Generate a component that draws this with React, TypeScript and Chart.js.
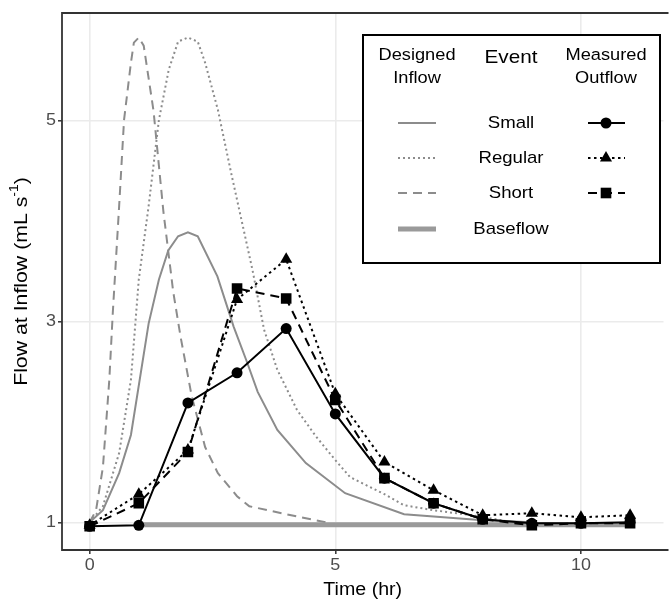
import React, { useEffect, useRef } from 'react';
import { Chart, registerables } from 'chart.js';

Chart.register(...registerables);

const FONT = '"Liberation Sans", Arial, Helvetica, sans-serif';
// the lettering is set slightly wide
const STRETCH = 1.12;

// Measured outflow, sampled every hour
const hours = [0, 1, 2, 3, 4, 5, 6, 7, 8, 9, 10, 11];
const smallOutflow = [0.96, 0.97, 2.19, 2.49, 2.93, 2.08, 1.44, 1.19, 1.03, 0.99, 0.99, 1.0];
const regularOutflow = [0.97, 1.28, 1.72, 3.22, 3.62, 2.28, 1.6, 1.32, 1.07, 1.09, 1.05, 1.07];
const shortOutflow = [0.96, 1.19, 1.7, 3.33, 3.23, 2.22, 1.44, 1.19, 1.03, 0.97, 0.99, 0.99];

// Designed inflow hydrographs
const smallInflowTime = [0, 0.27, 0.6, 0.84, 1.2, 1.41, 1.6, 1.8, 2.0, 2.2, 2.6, 2.93, 3.2, 3.42, 3.82, 4.4, 5.2, 6.4, 8.0, 9.0];
const smallInflowRate = [1.0, 1.12, 1.49, 1.87, 2.98, 3.42, 3.71, 3.85, 3.89, 3.85, 3.45, 2.95, 2.6, 2.3, 1.92, 1.59, 1.29, 1.08, 1.02, 1.0];

const regularInflowTime = [0, 0.27, 0.6, 0.84, 1.0, 1.2, 1.41, 1.61, 1.8, 2.0, 2.2, 2.35, 2.61, 2.88, 3.15, 3.32, 3.55, 3.82, 4.22, 4.6, 5.0, 5.3, 6.0, 6.4, 7.0, 7.94, 8.6];
const regularInflowRate = [1.0, 1.16, 1.69, 2.42, 3.42, 4.15, 5.01, 5.51, 5.79, 5.83, 5.79, 5.58, 5.11, 4.48, 3.88, 3.5, 2.92, 2.52, 2.12, 1.86, 1.62, 1.45, 1.28, 1.17, 1.12, 1.06, 1.0];

const shortInflowTime = [0, 0.13, 0.27, 0.4, 0.47, 0.6, 0.7, 0.84, 0.9, 1.0, 1.1, 1.3, 1.5, 1.7, 1.85, 2.08, 2.35, 2.61, 3.0, 3.25, 4.0, 4.8];
const shortInflowRate = [1.0, 1.12, 1.55, 2.42, 3.08, 4.15, 5.01, 5.58, 5.78, 5.83, 5.75, 5.1, 4.1, 3.3, 2.85, 2.25, 1.75, 1.49, 1.26, 1.16, 1.08, 1.0];

const baseflowTime = [1, 11];
const baseflowRate = [0.975, 0.975];

// Axes
const xTicks = [0, 5, 10];
const yTicks = [1, 3, 5];
const xLimits = [-0.563, 11.68];
const yLimits = [0.724, 6.075];
const xTitle = 'Time (hr)';
const yTitle = ['Flow at Inflow (mL s', '-1', ')'];

// Legend text
const inflowHeader = ['Designed', 'Inflow'];
const eventHeader = 'Event';
const outflowHeader = ['Measured', 'Outflow'];
const eventNames = ['Small', 'Regular', 'Short', 'Baseflow'];

const INFLOW_GREY = '#8c8c8c';
const BASE_GREY = '#9a9a9a';
const DOTTED_GREY = [2, 3];
const DOTTED_BLACK = [2.5, 3.5];
const DASHED = [9, 6];

const toPoints = (xs: number[], ys: number[]) => xs.map((x, i) => ({ x, y: ys[i] }));

type Marker = 'circle' | 'triangle' | 'rect' | null;

function drawMarker(ctx: CanvasRenderingContext2D, kind: Marker, x: number, y: number) {
  if (!kind) return;
  ctx.fillStyle = '#000';
  ctx.beginPath();
  if (kind === 'circle') {
    ctx.arc(x, y, 5.5, 0, Math.PI * 2);
  } else if (kind === 'triangle') {
    const r = 7;
    ctx.moveTo(x, y - r);
    ctx.lineTo(x + r * Math.sin((2 * Math.PI) / 3), y - r * Math.cos((2 * Math.PI) / 3));
    ctx.lineTo(x + r * Math.sin((4 * Math.PI) / 3), y - r * Math.cos((4 * Math.PI) / 3));
    ctx.closePath();
  } else {
    const s = 7.5 * Math.SQRT1_2;
    ctx.rect(x - s, y - s, 2 * s, 2 * s);
  }
  ctx.fill();
}

function strokeSample(ctx: CanvasRenderingContext2D, x0: number, x1: number, y: number, color: string, width: number, dash: number[]) {
  ctx.save();
  ctx.strokeStyle = color;
  ctx.lineWidth = width;
  ctx.setLineDash(dash);
  ctx.beginPath();
  ctx.moveTo(x0, y);
  ctx.lineTo(x1, y);
  ctx.stroke();
  ctx.restore();
}

function text(
  ctx: CanvasRenderingContext2D,
  str: string,
  x: number,
  y: number,
  size: number,
  align: CanvasTextAlign = 'center',
  color = '#000'
) {
  ctx.save();
  ctx.translate(x, y);
  ctx.scale(STRETCH, 1);
  ctx.font = `${size}px ${FONT}`;
  ctx.fillStyle = color;
  ctx.textAlign = align;
  ctx.textBaseline = 'middle';
  ctx.fillText(str, 0, 0);
  ctx.restore();
}

const decorations = {
  id: 'decorations',
  afterDraw(chart: Chart) {
    const { ctx, chartArea: a } = chart;
    const xs = chart.scales.x;
    const ys = chart.scales.y;
    ctx.save();

    // panel border (right side runs off the canvas)
    ctx.strokeStyle = '#333333';
    ctx.lineWidth = 1.8;
    ctx.beginPath();
    ctx.moveTo(a.right + 5, a.top);
    ctx.lineTo(a.left, a.top);
    ctx.lineTo(a.left, a.bottom);
    ctx.lineTo(a.right + 5, a.bottom);
    ctx.stroke();

    // tick labels
    xTicks.forEach((v) => text(ctx, String(v), xs.getPixelForValue(v), 566, 16, 'center', '#4d4d4d'));
    yTicks.forEach((v) => text(ctx, String(v), 56, ys.getPixelForValue(v), 16, 'right', '#4d4d4d'));

    // axis titles
    text(ctx, xTitle, (a.left + a.right) / 2, 590, 17.5);

    const titleSize = 19;
    const supSize = 12.5;
    ctx.save();
    ctx.translate(22, (a.top + a.bottom) / 2);
    ctx.rotate(-Math.PI / 2);
    ctx.scale(STRETCH, 1);
    ctx.fillStyle = '#000';
    ctx.textBaseline = 'middle';
    ctx.textAlign = 'left';
    ctx.font = `${titleSize}px ${FONT}`;
    const wMain = ctx.measureText(yTitle[0]).width;
    const wClose = ctx.measureText(yTitle[2]).width;
    ctx.font = `${supSize}px ${FONT}`;
    const wSup = ctx.measureText(yTitle[1]).width;
    let cx = -(wMain + wSup + wClose) / 2;
    ctx.font = `${titleSize}px ${FONT}`;
    ctx.fillText(yTitle[0], cx, 0);
    cx += wMain;
    ctx.font = `${supSize}px ${FONT}`;
    ctx.fillText(yTitle[1], cx, -7);
    cx += wSup;
    ctx.font = `${titleSize}px ${FONT}`;
    ctx.fillText(yTitle[2], cx, 0);
    ctx.restore();

    // legend box
    const bx = 363, by = 35, bw = 297, bh = 228;
    ctx.fillStyle = '#fff';
    ctx.fillRect(bx, by, bw, bh);
    ctx.strokeStyle = '#000';
    ctx.lineWidth = 2;
    ctx.strokeRect(bx, by, bw, bh);

    const colInflow = 417;
    const colEvent = 511;
    const colOutflow = 606;
    text(ctx, inflowHeader[0], colInflow, 56, 16.3);
    text(ctx, inflowHeader[1], colInflow, 79, 16.3);
    text(ctx, outflowHeader[0], colOutflow, 56, 16.3);
    text(ctx, outflowHeader[1], colOutflow, 79, 16.3);
    text(ctx, eventHeader, colEvent, 58, 18.5);

    const rows = [123, 158, 193, 229];
    const inflowStyles = [
      { color: INFLOW_GREY, width: 2, dash: [] as number[] },
      { color: INFLOW_GREY, width: 2, dash: DOTTED_GREY },
      { color: INFLOW_GREY, width: 2, dash: DASHED },
      { color: BASE_GREY, width: 5, dash: [] as number[] },
    ];
    const outflowStyles: { dash: number[]; marker: Marker }[] = [
      { dash: [], marker: 'circle' },
      { dash: DOTTED_BLACK, marker: 'triangle' },
      { dash: DASHED, marker: 'rect' },
    ];
    eventNames.forEach((name, i) => {
      const y = rows[i];
      const s = inflowStyles[i];
      strokeSample(ctx, 398, 436, y, s.color, s.width, s.dash);
      text(ctx, name, colEvent, y, 16.6);
      const o = outflowStyles[i];
      if (o) {
        strokeSample(ctx, 588, 625, y, '#000', 2, o.dash);
        drawMarker(ctx, o.marker, colOutflow, y);
      }
    });

    ctx.restore();
  },
};

export default function App() {
  const canvasRef = useRef<HTMLCanvasElement | null>(null);

  useEffect(() => {
    const canvas = canvasRef.current;
    if (!canvas) return;

    const inflow = (label: string, xs: number[], ys: number[], dash: number[], color = INFLOW_GREY, width = 2) => ({
      label,
      data: toPoints(xs, ys),
      showLine: true,
      borderColor: color,
      backgroundColor: color,
      borderWidth: width,
      borderDash: dash,
      borderCapStyle: 'butt' as const,
      pointRadius: 0,
      tension: 0,
    });

    const outflow = (label: string, ys: number[], dash: number[], style: string, radius: number) => ({
      label,
      data: toPoints(hours, ys),
      showLine: true,
      borderColor: '#000',
      backgroundColor: '#000',
      borderWidth: 2,
      borderDash: dash,
      pointStyle: style,
      pointRadius: radius,
      pointBorderWidth: 0,
      pointBackgroundColor: '#000',
      tension: 0,
    });

    const axisGrid = {
      color: '#ebebeb',
      lineWidth: 1.6,
      tickColor: '#333333',
      tickLength: 4,
      tickWidth: 1.5,
    };

    const chart = new Chart(canvas, {
      type: 'scatter',
      data: {
        datasets: [
          outflow('Small measured outflow', smallOutflow, [], 'circle', 5.5),
          outflow('Regular measured outflow', regularOutflow, DOTTED_BLACK, 'triangle', 7),
          outflow('Short measured outflow', shortOutflow, DASHED, 'rect', 7.5),
          inflow('Baseflow', baseflowTime, baseflowRate, [], BASE_GREY, 5),
          inflow('Small designed inflow', smallInflowTime, smallInflowRate, []),
          inflow('Regular designed inflow', regularInflowTime, regularInflowRate, DOTTED_GREY),
          inflow('Short designed inflow', shortInflowTime, shortInflowRate, DASHED),
        ] as any,
      },
      options: {
        animation: false,
        responsive: false,
        devicePixelRatio: 1,
        layout: { padding: { top: 13, left: 0, right: 0, bottom: 0 } },
        plugins: {
          legend: { display: false },
          tooltip: { enabled: false },
        },
        scales: {
          x: {
            type: 'linear',
            min: xLimits[0],
            max: xLimits[1],
            afterBuildTicks: (s: any) => {
              s.ticks = xTicks.map((v) => ({ value: v }));
            },
            afterFit: (s: any) => {
              s.height = 55;
            },
            grid: axisGrid,
            border: { display: false },
            ticks: { display: false },
          },
          y: {
            type: 'linear',
            min: yLimits[0],
            max: yLimits[1],
            afterBuildTicks: (s: any) => {
              s.ticks = yTicks.map((v) => ({ value: v }));
            },
            afterFit: (s: any) => {
              s.width = 62;
            },
            grid: axisGrid,
            border: { display: false },
            ticks: { display: false },
          },
        },
      } as any,
      plugins: [decorations],
    });

    return () => chart.destroy();
  }, []);

  return (
    <div style={{ position: 'fixed', left: 0, top: 0, width: 671, height: 605, background: '#fff' }}>
      <canvas ref={canvasRef} width={671} height={605} style={{ display: 'block' }} />
    </div>
  );
}
